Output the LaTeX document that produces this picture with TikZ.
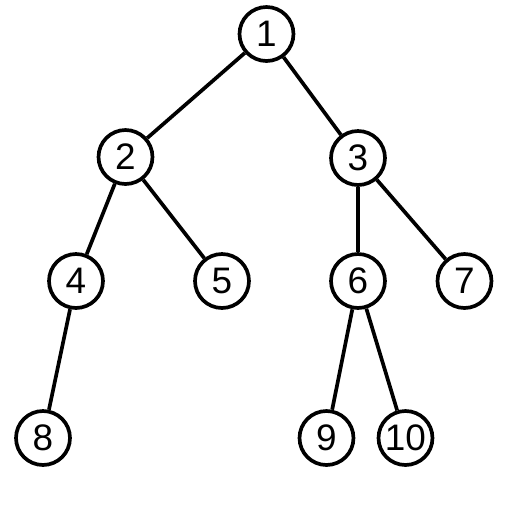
\documentclass[tikz,border=0pt]{standalone}
\usepackage{fontspec}
\setmainfont{Liberation Sans}
\tikzstyle{tree vertex}=[draw,circle,minimum size=1.08cm,
    inner sep=0pt,line width=2.1pt,font=\fontsize{21}{21}\selectfont]
\tikzstyle{tree edge}=[line width=2.1pt]
\newcommand{\treevertex}[2]{
    \node[tree vertex] at (#1) (v#2) {#2};
}
\newcommand{\treeedge}[2]{\draw[tree edge] (v#1)--(v#2);}
\begin{document}
\begin{tikzpicture}[x=0.02cm,y=-0.02cm]
    \useasboundingbox (0,0) rectangle (512,512);
    %
    \treevertex{266.5,34}{1}
    %
    \treevertex{125.5,157}{2}
    \treevertex{358,158}{3}
    %
    \treevertex{76,281}{4}
    \treevertex{222,281}{5}
    \treevertex{358,281}{6}
    \treevertex{464.5,281}{7}
    %
    \treevertex{43,438}{8}
    \treevertex{326.5,438}{9}
    \treevertex{405.5,438}{10}
    %
    \treeedge{1}{2}
    \treeedge{1}{3}
    \treeedge{2}{4}
    \treeedge{2}{5}
    \treeedge{3}{6}
    \treeedge{3}{7}
    \treeedge{4}{8}
    \treeedge{6}{9}
    \treeedge{6}{10}
\end{tikzpicture}
\end{document}
